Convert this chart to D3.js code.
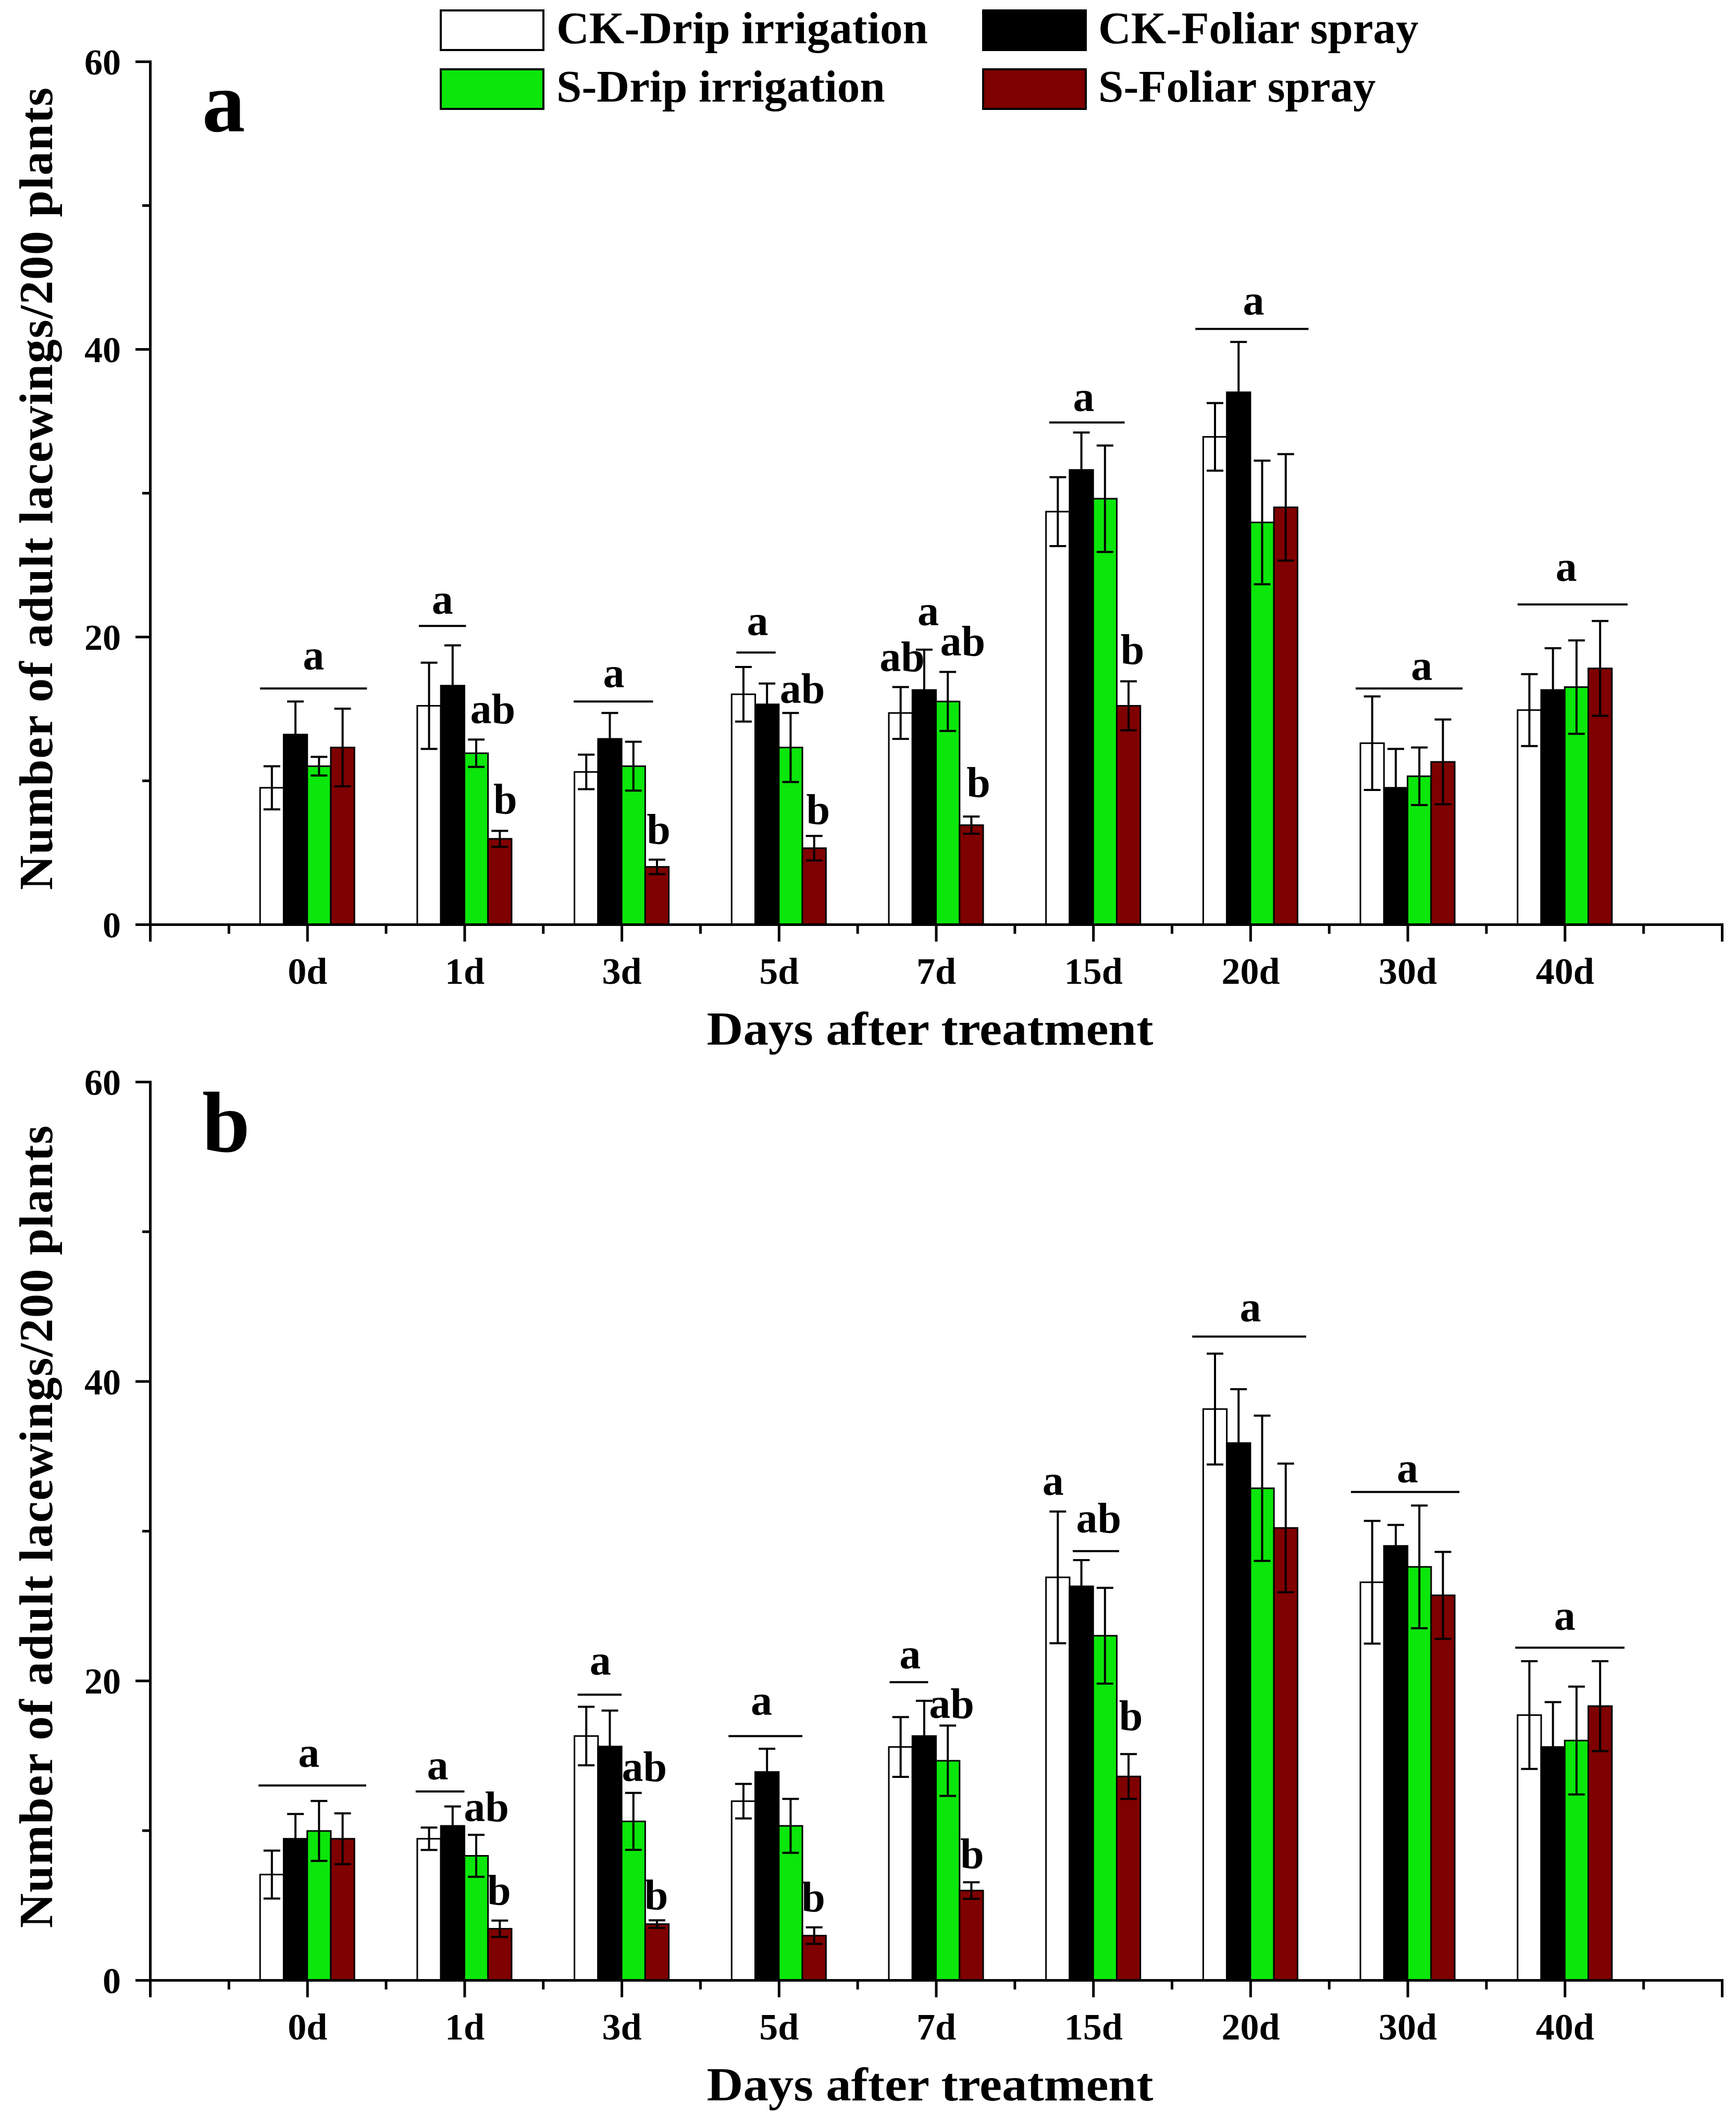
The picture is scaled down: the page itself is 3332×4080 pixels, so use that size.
<!DOCTYPE html>
<html><head><meta charset="utf-8">
<script src="https://cdn.jsdelivr.net/npm/d3@7"></script>
<style>
html,body{margin:0;padding:0;background:#fff;}
svg{display:block;}
text{font-family:"Liberation Serif","Times New Roman",serif;font-weight:bold;fill:#000;}
</style>
</head><body>
<svg id="chart" width="3332" height="4080"></svg>
<script>
// ---------- data ----------
const categories = ["0d","1d","3d","5d","7d","15d","20d","30d","40d"];
const seriesNames = ["CK-Drip irrigation","CK-Foliar spray","S-Drip irrigation","S-Foliar spray"];
const seriesColors = ["#ffffff","#000000","#0be60b","#7f0000"];
const yMajorTicks = [0,20,40,60];
const yMinorTicks = [10,30,50];
const yTitle = "Number of adult lacewings/200 plants";
const xTitle = "Days after treatment";

// Panel a
const a_ckDrip       = [9.5, 15.2, 10.6, 16.0, 14.7, 28.7, 33.9, 12.6, 14.9];
const a_ckDripErr    = [1.5, 3.0, 1.2, 1.9, 1.8, 2.4, 2.35, 3.25, 2.5];
const a_ckFoliar     = [13.2, 16.6, 12.9, 15.3, 16.3, 31.6, 37.0, 9.5, 16.3];
const a_ckFoliarErr  = [2.3, 2.8, 1.8, 1.45, 2.8, 2.6, 3.5, 2.7, 2.9];
const a_sDrip        = [11.0, 11.9, 11.0, 12.3, 15.5, 29.6, 27.95, 10.3, 16.5];
const a_sDripErr     = [0.65, 0.95, 1.7, 2.4, 2.05, 3.7, 4.3, 2.0, 3.25];
const a_sFoliar      = [12.3, 5.95, 4.0, 5.3, 6.9, 15.2, 29.0, 11.3, 17.8];
const a_sFoliarErr   = [2.7, 0.55, 0.5, 0.85, 0.6, 1.7, 3.7, 2.95, 3.3];

// Panel b
const b_ckDrip       = [7.05, 9.44, 16.3, 11.95, 15.57, 26.9, 38.14, 26.57, 17.7];
const b_ckDripErr    = [1.6, 0.75, 1.95, 1.15, 2.0, 4.4, 3.7, 4.1, 3.6];
const b_ckFoliar     = [9.44, 10.3, 15.6, 13.9, 16.3, 26.3, 35.87, 29.0, 15.57];
const b_ckFoliarErr  = [1.65, 1.3, 2.4, 1.55, 2.35, 1.75, 3.6, 1.4, 3.0];
const b_sDrip        = [9.96, 8.3, 10.6, 10.3, 14.65, 23.0, 32.85, 27.6, 16.0];
const b_sDripErr     = [2.0, 1.4, 1.9, 1.8, 2.35, 3.2, 4.85, 4.1, 3.6];
const b_sFoliar      = [9.44, 3.43, 3.74, 2.97, 5.98, 13.6, 30.2, 25.7, 18.3];
const b_sFoliarErr   = [1.7, 0.55, 0.25, 0.55, 0.55, 1.5, 4.3, 2.9, 3.0];

// significance letters: [category index, offset in category units, value of baseline, text]
const a_letters = [
  [0,0.04,17.7,"a"],
  [1,-0.14,21.6,"a"],[1,0.18,14.0,"ab"],[1,0.26,7.7,"b"],
  [2,-0.05,16.5,"a"],[2,0.235,5.6,"b"],
  [3,-0.135,20.1,"a"],[3,0.15,15.4,"ab"],[3,0.25,7.0,"b"],
  [4,-0.215,17.6,"ab"],[4,-0.05,20.8,"a"],[4,0.17,18.7,"ab"],[4,0.27,8.86,"b"],
  [5,-0.06,35.7,"a"],[5,0.25,18.1,"b"],
  [6,0.02,42.4,"a"],
  [7,0.09,17.0,"a"],
  [8,0.01,23.86,"a"]
];
// significance bars: [category index, start offset, end offset, value]
const a_sigLines = [
  [0,-0.30,0.38,16.4],[1,-0.29,0.01,20.75],[2,-0.305,0.2,15.5],[3,-0.27,-0.02,18.9],
  [5,-0.28,0.2,34.9],[6,-0.35,0.37,41.4],[7,-0.33,0.35,16.4],[8,-0.30,0.40,22.25]
];
const b_letters = [
  [0,0.01,14.25,"a"],
  [1,-0.17,13.4,"a"],[1,0.14,10.6,"ab"],[1,0.22,5.06,"b"],
  [2,-0.135,20.4,"a"],[2,0.145,13.3,"ab"],[2,0.22,4.75,"b"],
  [3,-0.11,17.7,"a"],[3,0.22,4.6,"b"],
  [4,-0.165,20.8,"a"],[4,0.10,17.5,"ab"],[4,0.23,7.5,"b"],
  [5,-0.255,32.4,"a"],[5,0.035,29.9,"ab"],[5,0.24,16.7,"b"],
  [6,0,44.0,"a"],
  [7,0,33.25,"a"],
  [8,0,23.4,"a"]
];
const b_sigLines = [
  [0,-0.31,0.375,13.0],[1,-0.31,0.0,12.6],[2,-0.28,0.0,19.06],[3,-0.32,0.15,16.3],
  [4,-0.295,-0.05,19.9],[5,-0.13,0.165,28.65],[6,-0.37,0.355,42.98],[7,-0.36,0.33,32.6],[8,-0.315,0.38,22.2]
];

// ---------- layout ----------
const svg = d3.select("#chart");
svg.append("rect").attr("width",3332).attr("height",4080).attr("fill","#fff");

const panels = [
  {label:"a", yTop:118, yBottom:1774,
   means:[a_ckDrip,a_ckFoliar,a_sDrip,a_sFoliar], errs:[a_ckDripErr,a_ckFoliarErr,a_sDripErr,a_sFoliarErr],
   letters:a_letters, sigLines:a_sigLines},
  {label:"b", yTop:2076, yBottom:3800,
   means:[b_ckDrip,b_ckFoliar,b_sDrip,b_sFoliar], errs:[b_ckDripErr,b_ckFoliarErr,b_sDripErr,b_sFoliarErr],
   letters:b_letters, sigLines:b_sigLines}
];

const x = d3.scaleLinear().domain([-1,9]).range([288,3305]);
const barW = 0.15;      // in category units
const groupStart = -0.3;
const capHalf = 16;
const fontFam = '"Liberation Serif","Times New Roman",serif';

panels.forEach(p => {
  const y = d3.scaleLinear().domain([0,60]).range([p.yBottom,p.yTop]);
  const g = svg.append("g");

  // bars + error bars
  p.means.forEach((vals, k) => {
    vals.forEach((v, i) => {
      const x0 = x(i + groupStart + k*barW), x1 = x(i + groupStart + (k+1)*barW);
      g.append("rect")
        .attr("x", x0).attr("y", y(v))
        .attr("width", x1-x0).attr("height", y(0)-y(v))
        .attr("fill", seriesColors[k]).attr("stroke","#000").attr("stroke-width",3);
      const e = p.errs[k][i];
      const cx = (x0+x1)/2;
      const eg = g.append("g").attr("stroke","#000").attr("stroke-width",4);
      eg.append("line").attr("x1",cx).attr("x2",cx).attr("y1",y(v-e)).attr("y2",y(v+e));
      eg.append("line").attr("x1",cx-capHalf).attr("x2",cx+capHalf).attr("y1",y(v+e)).attr("y2",y(v+e));
      eg.append("line").attr("x1",cx-capHalf).attr("x2",cx+capHalf).attr("y1",y(v-e)).attr("y2",y(v-e));
    });
  });

  // significance lines
  p.sigLines.forEach(([i,s,t,v]) => {
    g.append("line").attr("x1",x(i+s)).attr("x2",x(i+t)).attr("y1",y(v)).attr("y2",y(v))
      .attr("stroke","#000").attr("stroke-width",4);
  });
  // letters
  p.letters.forEach(([i,dx,v,t]) => {
    g.append("text").attr("x",x(i+dx)).attr("y",y(v)).attr("text-anchor","middle")
      .attr("font-size",82).text(t);
  });

  // x axis (major + minor)
  const xMajor = d3.axisBottom(x).tickValues(d3.range(-1,10)).tickSize(33).tickSizeOuter(0)
      .tickFormat(d => (d>=0 && d<categories.length) ? categories[d] : "");
  const xMinor = d3.axisBottom(x).tickValues(d3.range(-0.5,9,1)).tickSize(18).tickSizeOuter(0).tickFormat("");
  const gxm = svg.append("g").attr("transform",`translate(0,${y(0)})`).call(xMinor);
  gxm.select(".domain").remove();
  const gx = svg.append("g").attr("transform",`translate(0,${y(0)})`).call(xMajor);
  [gx,gxm].forEach(a => a.selectAll("line").attr("stroke","#000").attr("stroke-width",5));
  gx.select(".domain").attr("stroke","#000").attr("stroke-width",5).attr("stroke-linecap","square");
  gx.selectAll("text").attr("y",114).attr("dy",null).attr("font-size",72)
    .style("font-family",fontFam).style("font-weight","bold").attr("fill","#000");

  // y axis
  const yMajor = d3.axisLeft(y).tickValues(yMajorTicks).tickSize(28).tickSizeOuter(0);
  const yMinor = d3.axisLeft(y).tickValues(yMinorTicks).tickSize(15).tickSizeOuter(0).tickFormat("");
  const gym = svg.append("g").attr("transform",`translate(${x(-1)},0)`).call(yMinor);
  gym.select(".domain").remove();
  const gy = svg.append("g").attr("transform",`translate(${x(-1)},0)`).call(yMajor);
  [gy,gym].forEach(a => a.selectAll("line").attr("stroke","#000").attr("stroke-width",5));
  gy.select(".domain").attr("stroke","#000").attr("stroke-width",5).attr("stroke-linecap","square");
  gy.selectAll("text").attr("x",-56).attr("dy","0.35em").attr("font-size",70)
    .style("font-family",fontFam).style("font-weight","bold").attr("fill","#000");

  // titles
  svg.append("text").attr("x",1785).attr("y",y(0)+231).attr("text-anchor","middle")
    .attr("font-size",90).attr("textLength",857).attr("lengthAdjust","spacingAndGlyphs").text(xTitle);
  const cy = (p.yTop+p.yBottom)/2 - 8;
  svg.append("text").attr("transform",`translate(100,${cy}) rotate(-90)`).attr("text-anchor","middle")
    .attr("font-size",92).attr("textLength",1540).attr("lengthAdjust","spacing").text(yTitle);

  // panel letter
  svg.append("text").attr("x",388).attr("y",p.yTop+134).attr("font-size",165).text(p.label);
});

// ---------- legend ----------
const legendPos = [[846,20,1068,83],[1887,20,2108,83],[846,133,1068,195],[1887,133,2108,195]];
seriesNames.forEach((name,k) => {
  const [bx,by,tx,ty] = legendPos[k];
  svg.append("rect").attr("x",bx).attr("y",by).attr("width",197).attr("height",76)
    .attr("fill",seriesColors[k]).attr("stroke","#000").attr("stroke-width",4);
  svg.append("text").attr("x",tx).attr("y",ty).attr("font-size",87).text(name);
});
</script>
</body></html>
